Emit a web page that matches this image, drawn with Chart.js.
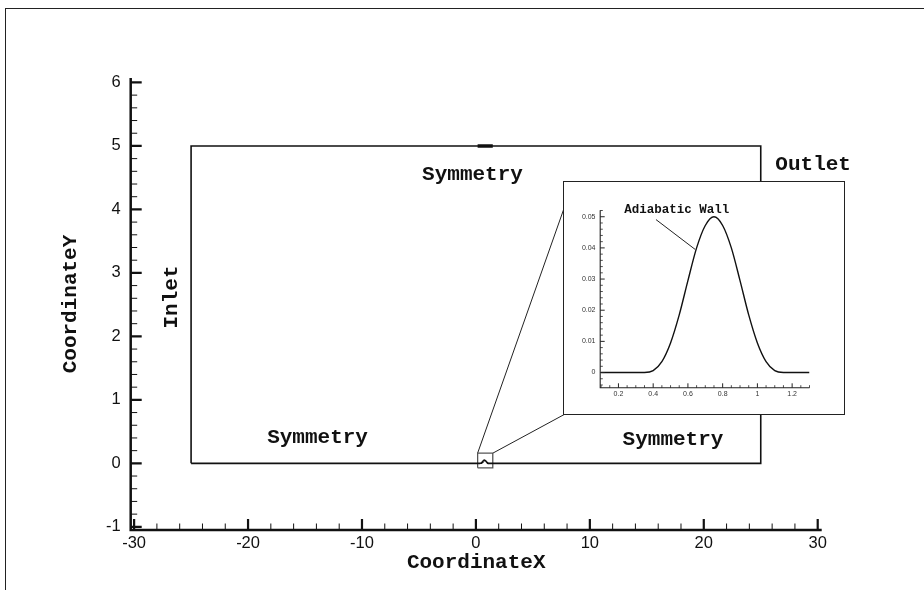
<!DOCTYPE html>
<html>
<head>
<meta charset="utf-8">
<script src="https://cdn.jsdelivr.net/npm/chart.js@4.4.0/dist/chart.umd.min.js"></script>
<style>
  html, body { margin: 0; padding: 0; background: #fff; }
  #wrap { position: relative; width: 924px; height: 590px; overflow: hidden; background: #fff; }
  #frame { position: absolute; left: 5px; top: 8px; width: 940px; height: 600px;
           border-top: 1.5px solid #222; border-left: 1.5px solid #222; }
  #main { position: absolute; left: 0; top: 0; }
  #insetBox { position: absolute; left: 563px; top: 181px; width: 280px; height: 232px;
              border: 1.5px solid #222; background: #fff; }
  #inset { display: block; }
</style>
</head>
<body>
<div id="wrap">
  <div id="frame"></div>
  <canvas id="main" width="924" height="590"></canvas>
  <div id="insetBox"><canvas id="inset" width="280" height="232"></canvas></div>
</div>
<script>
// ---- main view: computational domain ----
const xTicks = [-30, -20, -10, 0, 10, 20, 30];
const yTicks = [-1, 0, 1, 2, 3, 4, 5, 6];

// domain corners (x from -25 to 25, y from 0 to 5)
const domainXMin = -25, domainXMax = 25, domainYMin = 0, domainYMax = 5;

// bump on the lower wall
const bumpX = [0.10, 0.35, 0.40, 0.45, 0.50, 0.55, 0.60, 0.65, 0.70, 0.75,
               0.80, 0.85, 0.90, 0.95, 1.00, 1.05, 1.10, 1.15, 1.30];
const bumpY = [0, 0, 0.0006, 0.0035, 0.0095, 0.0185, 0.0295, 0.0400, 0.0472, 0.0500,
               0.0472, 0.0400, 0.0295, 0.0185, 0.0095, 0.0035, 0.0006, 0, 0];

// zoom window around the bump
const zoomBoxX = [0.15, 1.48];
const zoomBoxY = [-0.07, 0.16];
// where the zoom window's connector lines meet the inset frame
const connectTopX = [0.15, 7.78], connectTopY = [0.16, 4.04];
const connectBotX = [1.48, 7.78], connectBotY = [0.16, 0.772];

// inset axes
const insetXTicks = [0.2, 0.4, 0.6, 0.8, 1.0, 1.2];
const insetXTickLabels = ['0.2', '0.4', '0.6', '0.8', '1', '1.2'];
const insetYTicks = [0, 0.01, 0.02, 0.03, 0.04, 0.05];
const insetYTickLabels = ['0', '0.01', '0.02', '0.03', '0.04', '0.05'];

const zip = (xs, ys) => xs.map((x, i) => ({ x, y: ys[i] }));

// outline of the domain: lower wall with bump, outlet, top, inlet
const domainOutline = [
  { x: domainXMin, y: domainYMin },
  ...zip(bumpX, bumpY),
  { x: domainXMax, y: domainYMin },
  { x: domainXMax, y: domainYMax },
  { x: domainXMin, y: domainYMax },
  { x: domainXMin, y: domainYMin }
];
const zoomBox = [
  { x: zoomBoxX[0], y: zoomBoxY[0] }, { x: zoomBoxX[1], y: zoomBoxY[0] },
  { x: zoomBoxX[1], y: zoomBoxY[1] }, { x: zoomBoxX[0], y: zoomBoxY[1] },
  { x: zoomBoxX[0], y: zoomBoxY[0] }
];

// inward-pointing axis ticks, drawn from each chart's own scales
const inwardTicks = {
  id: 'inwardTicks',
  afterDatasetsDraw(chart, args, o) {
    const { ctx, chartArea: a, scales: { x, y } } = chart;
    ctx.save();
    ctx.lineCap = 'butt';
    ctx.strokeStyle = o.color;
    const minorVals = (scale, step, majors) => {
      const out = [];
      const k0 = Math.ceil(scale.min / step - 1e-6), k1 = Math.floor(scale.max / step + 1e-6);
      for (let k = k0; k <= k1; k++) {
        const v = +(k * step).toFixed(6);
        if (!majors.some(m => Math.abs(m - v) < step / 10)) out.push(v);
      }
      return out;
    };
    // minor ticks
    ctx.lineWidth = o.minorWidth;
    ctx.beginPath();
    minorVals(x, o.xMinor, o.xMajor).forEach(v => {
      const px = x.getPixelForValue(v);
      ctx.moveTo(px, a.bottom); ctx.lineTo(px, a.bottom - o.minorLen);
    });
    minorVals(y, o.yMinor, o.yMajor).forEach(v => {
      const py = y.getPixelForValue(v);
      ctx.moveTo(a.left, py); ctx.lineTo(a.left + o.minorLen, py);
    });
    ctx.stroke();
    // major ticks
    ctx.lineWidth = o.majorWidth;
    ctx.beginPath();
    o.xMajor.forEach(v => {
      const px = x.getPixelForValue(v);
      ctx.moveTo(px, a.bottom); ctx.lineTo(px, a.bottom - o.majorLen);
    });
    o.yMajor.forEach(v => {
      const py = y.getPixelForValue(v);
      ctx.moveTo(a.left, py); ctx.lineTo(a.left + o.majorLen, py);
    });
    ctx.stroke();
    // axis lines
    ctx.lineWidth = o.axisWidth;
    ctx.beginPath();
    ctx.moveTo(a.left, a.top); ctx.lineTo(a.left, a.bottom); ctx.lineTo(a.right, a.bottom);
    ctx.stroke();
    ctx.restore();
  }
};

// text annotations placed in data coordinates
const textNotes = {
  id: 'textNotes',
  afterDatasetsDraw(chart, args, o) {
    const { ctx, scales: { x, y } } = chart;
    ctx.save();
    ctx.fillStyle = o.color;
    ctx.font = o.font;
    o.items.forEach(it => {
      ctx.save();
      ctx.translate(x.getPixelForValue(it.x), y.getPixelForValue(it.y));
      ctx.rotate((it.rot || 0) * Math.PI / 180);
      ctx.textAlign = it.align || 'center';
      ctx.textBaseline = 'middle';
      ctx.fillText(it.text, 0, 0);
      ctx.restore();
    });
    ctx.restore();
  }
};

const monoBold = (size) => `bold ${size}px "Liberation Mono", "Courier New", monospace`;

new Chart(document.getElementById('main'), {
  type: 'scatter',
  data: {
    datasets: [
      { data: domainOutline, showLine: true, borderColor: '#111', borderWidth: 1.6,
        pointRadius: 0, tension: 0 },
      { data: [{ x: zoomBoxX[0], y: domainYMax }, { x: zoomBoxX[1], y: domainYMax }],
        showLine: true, borderColor: '#111', borderWidth: 3.5, pointRadius: 0 },
      { data: zoomBox, showLine: true, borderColor: '#555', borderWidth: 1.3, pointRadius: 0 },
      { data: zip(connectTopX, connectTopY), showLine: true, borderColor: '#222',
        borderWidth: 1, pointRadius: 0 },
      { data: zip(connectBotX, connectBotY), showLine: true, borderColor: '#222',
        borderWidth: 1, pointRadius: 0 }
    ]
  },
  options: {
    responsive: false,
    devicePixelRatio: 1,
    animation: false,
    events: [],
    layout: { padding: { left: 58, top: 78, right: 102.3, bottom: 14.5 } },
    plugins: {
      legend: { display: false },
      tooltip: { enabled: false },
      inwardTicks: {
        color: '#111', axisWidth: 2.5, majorWidth: 2.2, minorWidth: 1,
        majorLen: 11, minorLen: 6.5,
        xMajor: xTicks, xMinor: 2, yMajor: yTicks, yMinor: 0.2
      },
      textNotes: {
        color: '#111', font: monoBold(21),
        items: [
          { text: 'Symmetry', x: -0.3, y: 4.54 },
          { text: 'Symmetry', x: -13.9, y: 0.41 },
          { text: 'Symmetry', x: 17.3, y: 0.37 },
          { text: 'Outlet', x: 29.6, y: 4.70 },
          { text: 'Inlet', x: -26.66, y: 2.62, rot: -90 }
        ]
      }
    },
    scales: {
      x: {
        type: 'linear', min: -30.3, max: 30.35,
        grid: { display: false, drawTicks: false }, border: { display: false },
        afterBuildTicks: s => { s.ticks = xTicks.map(v => ({ value: v })); },
        afterFit: s => { s.height = 45.5; },
        ticks: { font: { family: 'Liberation Sans', size: 16.5 }, color: '#111',
                 padding: 4, maxRotation: 0, autoSkip: false },
        title: { display: true, text: 'CoordinateX', color: '#111', padding: 0,
                 font: { family: 'Liberation Mono', weight: 'bold', size: 21 } }
      },
      y: {
        type: 'linear', min: -1.05, max: 6.07,
        grid: { display: false, drawTicks: false }, border: { display: false },
        afterBuildTicks: s => { s.ticks = yTicks.map(v => ({ value: v })); },
        afterFit: s => { s.width = 72.7; },
        ticks: { font: { family: 'Liberation Sans', size: 16.5 }, color: '#111',
                 padding: 10, autoSkip: false },
        title: { display: true, text: 'CoordinateY', color: '#111', padding: 0,
                 font: { family: 'Liberation Mono', weight: 'bold', size: 21 } }
      }
    }
  },
  plugins: [inwardTicks, textNotes]
});

// ---- inset: close-up of the bump ----
new Chart(document.getElementById('inset'), {
  type: 'scatter',
  data: {
    datasets: [
      { data: zip(bumpX, bumpY), showLine: true, borderColor: '#111', borderWidth: 1.4,
        pointRadius: 0, cubicInterpolationMode: 'monotone' },
      { data: [{ x: 0.416, y: 0.0491 }, { x: 0.642, y: 0.0395 }], showLine: true,
        borderColor: '#222', borderWidth: 1, pointRadius: 0 }
    ]
  },
  options: {
    responsive: false,
    devicePixelRatio: 1,
    animation: false,
    events: [],
    layout: { padding: { left: 0, top: 28.2, right: 34.5, bottom: 12.2 } },
    plugins: {
      legend: { display: false },
      tooltip: { enabled: false },
      inwardTicks: {
        color: '#222', axisWidth: 1.1, majorWidth: 1, minorWidth: 0.8,
        majorLen: 4.5, minorLen: 2.6,
        xMajor: insetXTicks, xMinor: 0.05, yMajor: insetYTicks, yMinor: 0.002
      },
      textNotes: {
        color: '#111', font: monoBold(12.5),
        items: [{ text: 'Adiabatic Wall', x: 0.234, y: 0.0521, align: 'left' }]
      }
    },
    scales: {
      x: {
        type: 'linear', min: 0.095, max: 1.3,
        grid: { display: false, drawTicks: false }, border: { display: false },
        afterBuildTicks: s => { s.ticks = insetXTicks.map(v => ({ value: v })); },
        afterFit: s => { s.height = 14; },
        ticks: { font: { family: 'Liberation Sans', size: 7 }, color: '#333', padding: 2,
                 maxRotation: 0, autoSkip: false,
                 callback: (v) => insetXTickLabels[insetXTicks.findIndex(t => Math.abs(t - v) < 1e-9)] }
      },
      y: {
        type: 'linear', min: -0.0049, max: 0.0521,
        grid: { display: false, drawTicks: false }, border: { display: false },
        afterBuildTicks: s => { s.ticks = insetYTicks.map(v => ({ value: v })); },
        afterFit: s => { s.width = 36.2; },
        ticks: { font: { family: 'Liberation Sans', size: 7 }, color: '#333', padding: 4.7,
                 autoSkip: false,
                 callback: (v) => insetYTickLabels[insetYTicks.findIndex(t => Math.abs(t - v) < 1e-9)] }
      }
    }
  },
  plugins: [inwardTicks, textNotes]
});
</script>
</body>
</html>
